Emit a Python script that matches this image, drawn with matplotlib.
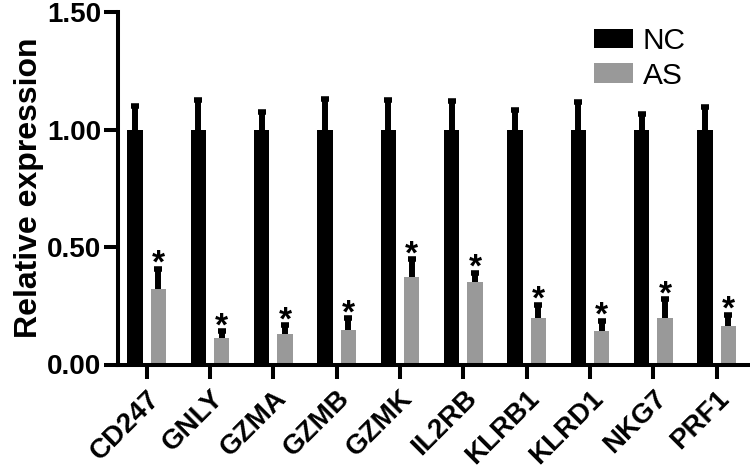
import numpy as np
import matplotlib
matplotlib.use("Agg")
from matplotlib import pyplot as plt

plt.rcParams['font.family'] = ['Liberation Sans', 'DejaVu Sans']

genes = ["CD247", "GNLY", "GZMA", "GZMB", "GZMK", "IL2RB", "KLRB1", "KLRD1", "NKG7", "PRF1"]
nc_mean = [1.0, 1.0, 1.0, 1.0, 1.0, 1.0, 1.0, 1.0, 1.0, 1.0]
nc_err = [0.10, 0.125, 0.075, 0.13, 0.125, 0.12, 0.085, 0.118, 0.064, 0.095]
as_mean = [0.322, 0.112, 0.128, 0.145, 0.372, 0.353, 0.198, 0.143, 0.198, 0.162]
as_err = [0.085, 0.03, 0.038, 0.052, 0.075, 0.037, 0.057, 0.044, 0.08, 0.05]
group_labels = ["NC", "AS"]

black = "#000000"
gray = "#999999"

fig = plt.figure(figsize=(7.5, 4.68), dpi=100)
ax = fig.add_axes([118 / 750, 1 - 364.5 / 468, 1 - 118 / 750, (364.5 - 12) / 468])

x = np.arange(len(genes))
w = 0.24
off = 0.185


def draw_group(xs, means, errs, color, label):
    ax.bar(xs, means, width=w, color=color, edgecolor=color, linewidth=0, label=label, zorder=2)
    tops = np.array(means) + np.array(errs)
    ax.vlines(xs, means, tops, colors=black, linewidth=4.3, zorder=3)
    ax.plot(xs, tops, linestyle="none", marker="_", markersize=5.8, mew=4.0, color=black, zorder=3)
    return tops


draw_group(x - off, nc_mean, nc_err, black, group_labels[0])
as_tops = draw_group(x + off, as_mean, as_err, gray, group_labels[1])

for xi, t in zip(x + off, as_tops):
    ax.annotate("*", (xi, t), xytext=(0, -3), textcoords="offset points",
                ha="center", va="baseline", fontsize=24, fontweight="bold")

ax.set_xlim(-0.453, 9.526)
ax.set_ylim(0, 1.5)
ax.set_yticks([0, 0.5, 1.0, 1.5])
ax.set_yticklabels(["0.00", "0.50", "1.00", "1.50"])
ax.set_xticks(x)
ax.set_xticklabels(genes, rotation=45, ha="right", va="top", rotation_mode="anchor")

for lab in ax.get_xticklabels() + ax.get_yticklabels():
    lab.set_fontsize(20)
    lab.set_fontweight("bold")

ax.spines["top"].set_visible(False)
ax.spines["right"].set_visible(False)
ax.spines["left"].set_linewidth(2.9)
ax.spines["bottom"].set_linewidth(2.9)
ax.tick_params(axis="both", width=2.9, length=10, pad=2)
ax.tick_params(axis="x", pad=5)

ax.set_ylabel("Relative expression", fontsize=23, fontweight="bold", labelpad=2)

ax.legend(loc="upper left", bbox_to_anchor=(594 / 750, 1 - 27 / 468), bbox_transform=fig.transFigure,
          frameon=False, fontsize=21.5, handlelength=1.3, handleheight=0.65,
          handletextpad=0.33, labelspacing=0.22, borderpad=0, borderaxespad=0)

fig.savefig("out.png", dpi=100)
